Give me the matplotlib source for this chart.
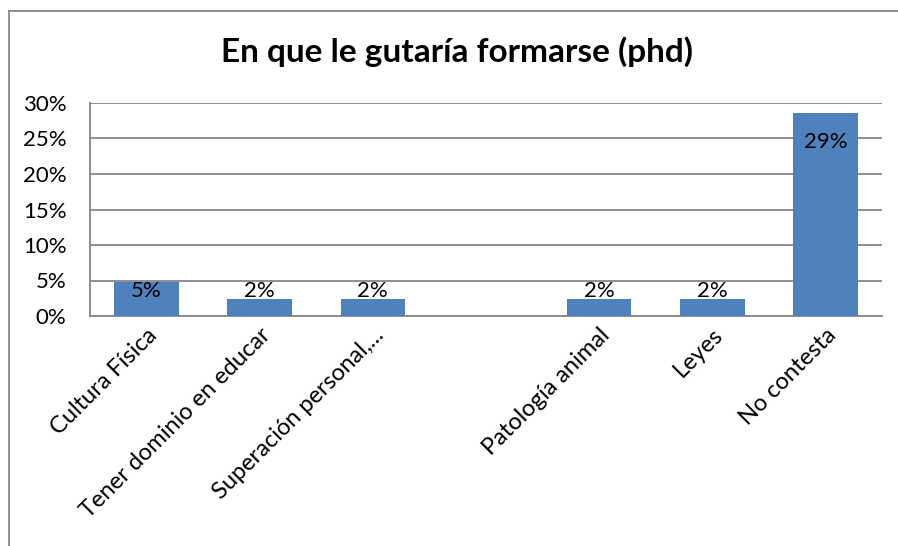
import matplotlib
matplotlib.use("Agg")
import matplotlib.pyplot as plt
from matplotlib.lines import Line2D
from matplotlib.ticker import FuncFormatter, MultipleLocator

categories = ["Cultura Física", "Tener dominio en educar", "Superación personal,...",
              "", "Patología animal", "Leyes", "No contesta"]
values = [0.0476, 0.0238, 0.0238, None, 0.0238, 0.0238, 0.2857]
labels = ["5%", "2%", "2%", None, "2%", "2%", "29%"]
title = "En que le gutaría formarse (phd)"

plt.rcParams['font.family'] = ['Lato', 'DejaVu Sans']

fig = plt.figure(figsize=(8.98, 5.46), dpi=100)
fig.patch.set_facecolor("white")
# chart frame (only left and top edges visible)
fx, fy = 8.5/898, 1 - 10.5/546
fig.add_artist(Line2D([fx, fx], [-0.05, fy], transform=fig.transFigure,
                      color="#868686", linewidth=1.3))
fig.add_artist(Line2D([fx, 1.05], [fy, fy], transform=fig.transFigure,
                      color="#868686", linewidth=1.3))

ax = fig.add_axes([90/898, (546-316)/546, (882-90)/898, (316-103)/546])
x = list(range(len(categories)))
bar_vals = [v if v is not None else 0 for v in values]
ax.bar(x, bar_vals, width=0.57, color="#4F81BD", zorder=3)
for xi, v, lab in zip(x, values, labels):
    if v is None or lab is None:
        continue
    if v > 0.1:
        y = v - 0.04
    else:
        y = max(v - 0.0125, 0.035)
    ax.text(xi, y, lab, ha="center", va="center", fontsize=16, color="black", zorder=4)

ax.set_xlim(-0.5, len(categories) - 0.5)
ax.set_ylim(0, 0.30)
ax.yaxis.set_major_locator(MultipleLocator(0.05))
ax.yaxis.set_major_formatter(FuncFormatter(lambda v, p: f"{v*100:.0f}%"))
ax.grid(axis="y", color="#868686", linewidth=1.3, zorder=0)
ax.set_axisbelow(True)
for s in ["top", "right"]:
    ax.spines[s].set_visible(False)
for s in ["left", "bottom"]:
    ax.spines[s].set_color("#868686")
    ax.spines[s].set_linewidth(1.3)
ax.tick_params(axis="y", length=0, labelsize=16, pad=17)
ax.tick_params(axis="x", length=0, labelsize=17, pad=6)
ax.set_xticks(x)
ax.set_xticklabels(categories, rotation=45, ha="right", rotation_mode="anchor")

fig.text(457/898, 1 - 52/546, title, ha="center", va="center", fontsize=24, fontweight="bold")

fig.savefig("out.png", dpi=100)
